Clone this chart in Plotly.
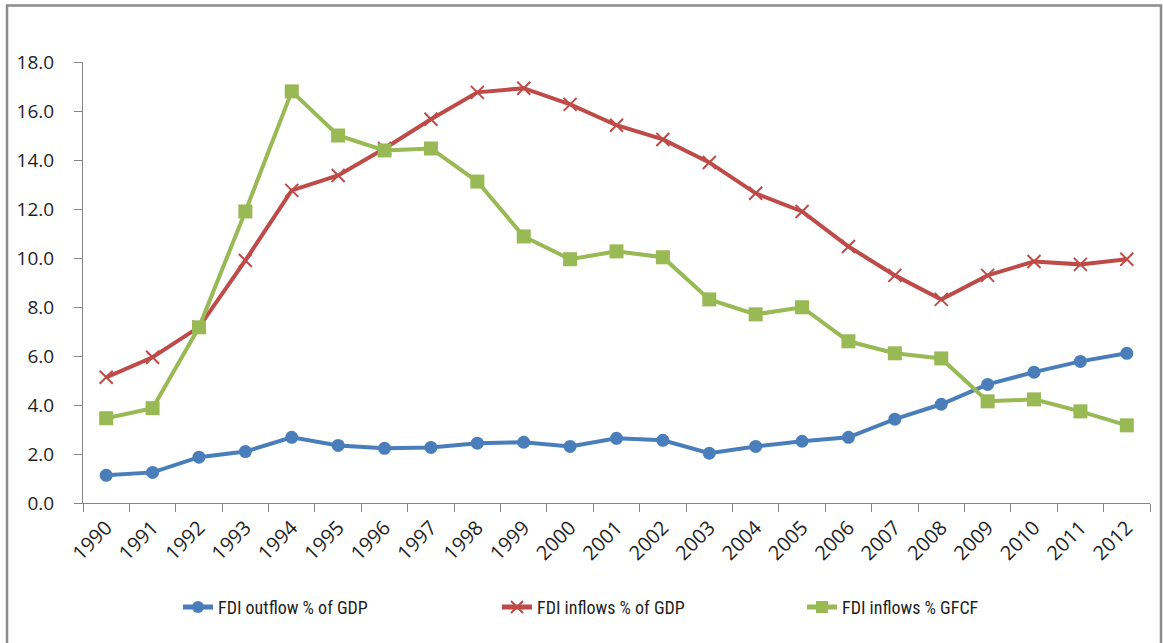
import plotly.graph_objects as go

years = [str(y) for y in range(1990, 2013)]
outflow_gdp = [1.13, 1.25, 1.87, 2.10, 2.68, 2.35, 2.23, 2.27, 2.44, 2.48, 2.31, 2.64,
               2.56, 2.03, 2.31, 2.52, 2.68, 3.42, 4.03, 4.84, 5.34, 5.78, 6.11]
inflow_gdp = [5.13, 5.95, 7.18, 9.90, 12.76, 13.37, 14.47, 15.66, 16.76, 16.93, 16.27, 15.42,
              14.84, 13.90, 12.64, 11.90, 10.47, 9.29, 8.31, 9.29, 9.86, 9.74, 9.95]
inflow_gfcf = [3.46, 3.87, 7.17, 11.90, 16.80, 15.00, 14.39, 14.47, 13.12, 10.88, 9.95, 10.27,
               10.03, 8.31, 7.70, 7.99, 6.60, 6.11, 5.90, 4.15, 4.23, 3.74, 3.17]
y_ticks = [0, 2, 4, 6, 8, 10, 12, 14, 16, 18]

W, H = 1163, 643
L, R, T, B = 83, 1150, 62, 502.7

def px_x(p):
    return (p - L) / (R - L)

def px_y(p):
    return (B - p) / (B - T)

fig = go.Figure()
fig.add_trace(go.Scatter(
    x=years, y=outflow_gdp, name="FDI outflow % of GDP", mode="lines+markers",
    line=dict(color="#4A7EBB", width=4),
    marker=dict(symbol="circle", size=13, color="#4A7EBB"),
    legend="legend",
))
fig.add_trace(go.Scatter(
    x=years, y=inflow_gdp, name="FDI inflows % of GDP", mode="lines+markers",
    line=dict(color="#BE4B48", width=4),
    marker=dict(symbol="x-thin", size=13, color="#BE4B48",
                line=dict(color="#BE4B48", width=2)),
    legend="legend2",
))
fig.add_trace(go.Scatter(
    x=years, y=inflow_gfcf, name="FDI inflows % GFCF", mode="lines+markers",
    line=dict(color="#98B954", width=4),
    marker=dict(symbol="square", size=14, color="#98B954"),
    legend="legend3",
))

fig.add_shape(type="rect", xref="paper", yref="paper",
              x0=px_x(7), x1=px_x(1161), y0=px_y(700), y1=px_y(5.5),
              line=dict(color="#8C8C8C", width=2.5), fillcolor="rgba(0,0,0,0)",
              layer="below")

tick_font = dict(family="Open Sans, Calibri, sans-serif", size=19, color="#1F1F1F")
xtick_font = dict(family="Open Sans, Calibri, sans-serif", size=20, color="#1F1F1F")
leg_font = dict(family="Liberation Sans Narrow, Roboto Condensed, Lato, sans-serif",
                size=18, color="#1F1F1F")

def leg(xpix):
    return dict(orientation="h", x=px_x(xpix), xanchor="left", y=px_y(607),
                yanchor="middle", font=leg_font, bgcolor="rgba(0,0,0,0)",
                itemsizing="constant")

fig.update_layout(
    width=W, height=H,
    margin=dict(l=L, r=W - R, t=T, b=H - B, pad=0, autoexpand=False),
    paper_bgcolor="white", plot_bgcolor="white",
    showlegend=True,
    legend=leg(178),
    legend2=leg(497),
    legend3=leg(802),
    xaxis=dict(type="category", range=[-0.5, len(years) - 0.5], showgrid=False,
               showline=True, linecolor="#868686", linewidth=1, automargin=False,
               ticks="outside", tickson="boundaries", ticklen=8, tickcolor="#868686",
               tickangle=-45, tickfont=xtick_font, ticklabelstandoff=4),
    yaxis=dict(range=[0, 18], tickvals=y_ticks, tickformat=".1f", showgrid=False,
               showline=True, linecolor="#868686", linewidth=1, automargin=False,
               ticks="outside", ticklen=8, tickcolor="#868686",
               tickfont=tick_font, zeroline=False, ticklabelstandoff=16),
)

fig.write_html("out.html")
